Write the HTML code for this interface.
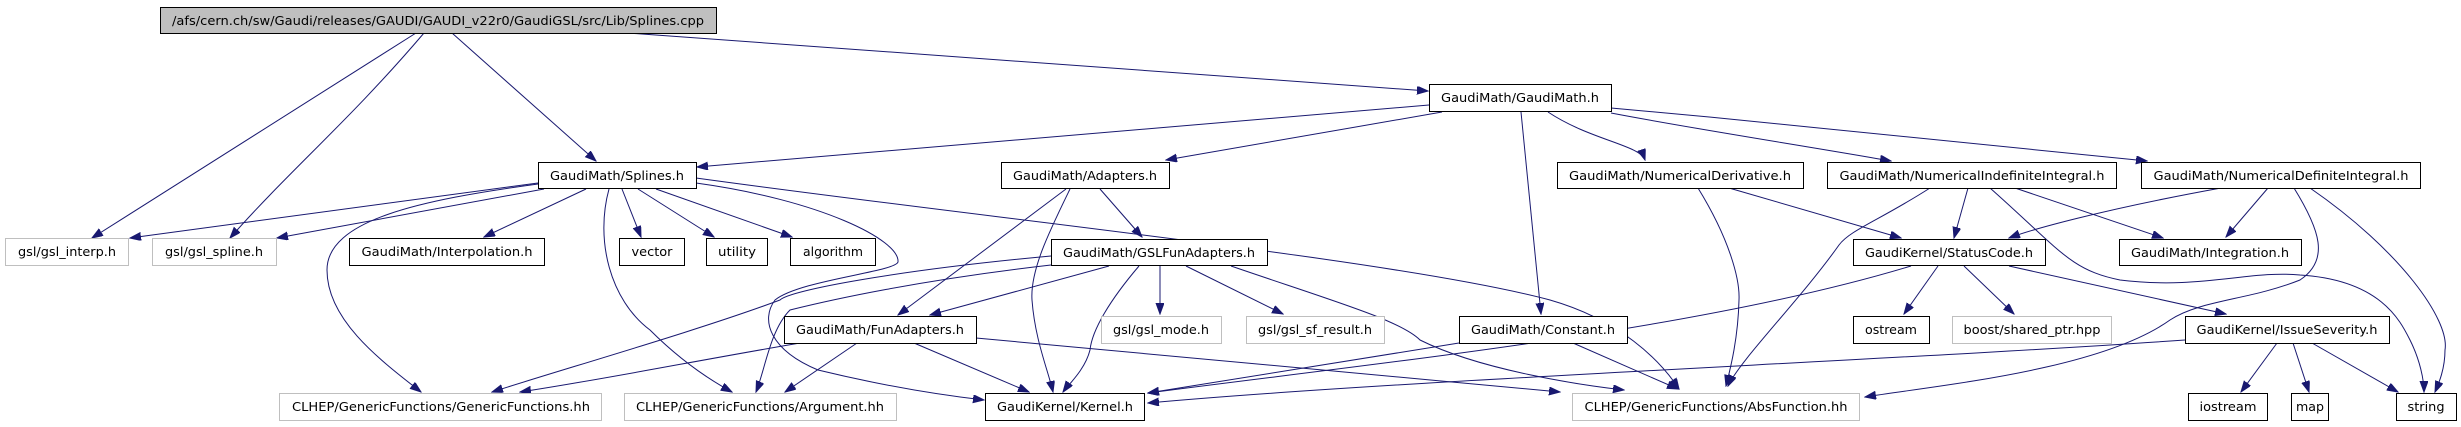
<!DOCTYPE html>
<html><head><meta charset="utf-8"><style>
html,body{margin:0;padding:0;background:#fff;}
svg{display:block;}
text{font-family:"DejaVu Sans","Liberation Sans",sans-serif;font-size:12px;fill:#000;}
</style></head><body>
<svg width="2461" height="427" viewBox="0 0 2461 427" xmlns="http://www.w3.org/2000/svg">
<defs>
<marker id="a" markerUnits="userSpaceOnUse" markerWidth="12" markerHeight="10" refX="11" refY="4" orient="auto">
<path d="M0,0 L11,4 L0,8 Z" fill="#191970" stroke="#191970"/>
</marker>
</defs>
<g fill="none" stroke="#191970" stroke-width="1" marker-end="url(#a)">
<!-- root -->
<path d="M416,33 L92,238"/>
<path d="M424,33 C350,120 290,170 230,238"/>
<path d="M452,33 L596,161"/>
<path d="M628,33 L1428,91"/>
<!-- GaudiMath.h -->
<path d="M1429,105 L697,167"/>
<path d="M1442,112 L1166,160"/>
<path d="M1521,112 L1541,314"/>
<path d="M1548,112 C1590,140 1640,145 1645,160"/>
<path d="M1611,113 C1700,130 1800,145 1891,161"/>
<path d="M1611,108 C1800,125 2000,145 2147,161"/>
<!-- Splines.h -->
<path d="M538,183 L130,238"/>
<path d="M544,189 L277,238"/>
<path d="M586,189 L484,237"/>
<path d="M622,189 L641,237"/>
<path d="M638,189 L714,237"/>
<path d="M656,189 L792,237"/>
<path d="M538,184 C420,200 327,220 327,270 C327,320 380,360 421,392"/>
<path d="M609,189 C595,240 610,300 650,330 C680,360 710,380 732,392"/>
<path d="M696,183 C820,200 900,240 898,262 C895,272 800,280 775,300 C760,320 770,350 818,370 C880,385 940,395 984,400"/>
<path d="M696,178 C1000,220 1400,260 1550,300 C1620,320 1660,360 1679,389"/>
<!-- Adapters.h -->
<path d="M1066,189 L898,315"/>
<path d="M1070,189 C1050,230 1030,270 1032,300 C1035,340 1048,370 1053,392"/>
<path d="M1100,189 L1142,237"/>
<!-- GSLFunAdapters -->
<path d="M1160,266 L1160,314"/>
<path d="M1186,266 L1283,314"/>
<path d="M1109,266 L930,315"/>
<path d="M1139,266 C1110,300 1092,330 1090,350 C1085,370 1068,385 1063,392"/>
<path d="M1231,266 C1330,300 1400,320 1420,340 C1480,370 1580,385 1624,390"/>
<path d="M1051,256 C900,270 790,290 780,300 C700,330 560,370 492,392"/>
<path d="M1051,265 C920,280 830,300 790,310 C770,330 765,370 756,392"/>
<!-- FunAdapters -->
<path d="M800,343 C700,360 600,380 520,392"/>
<path d="M857,343 L785,392"/>
<path d="M914,343 L1029,392"/>
<path d="M976,338 L1560,392"/>
<!-- Constant.h -->
<path d="M1459,343 L1148,393"/>
<path d="M1573,343 L1678,389"/>
<!-- NumericalDerivative -->
<path d="M1729,188 L1901,238"/>
<path d="M1698,188 C1730,240 1740,280 1739,300 C1738,340 1730,370 1726,386"/>
<!-- NumericalIndefiniteIntegral -->
<path d="M1968,188 L1954,238"/>
<path d="M1930,188 C1880,220 1850,230 1839,245 C1800,300 1740,360 1728,386"/>
<path d="M2015,188 L2163,238"/>
<path d="M1990,188 C2060,250 2070,270 2120,280 C2200,290 2250,270 2300,275 C2380,280 2400,320 2410,340 C2420,360 2424,380 2424,392"/>
<!-- NumericalDefiniteIntegral -->
<path d="M2221,188 C2100,210 2030,230 2009,238"/>
<path d="M2268,188 L2226,237"/>
<path d="M2294,188 C2320,230 2330,260 2300,280 C2250,300 2200,300 2170,320 C2100,370 1940,385 1865,397"/>
<path d="M2310,188 C2400,250 2450,320 2445,350 C2445,370 2438,385 2435,392"/>
<!-- StatusCode -->
<path d="M1911,266 C1700,330 1400,360 1148,393"/>
<path d="M1938,266 L1904,314"/>
<path d="M1964,266 L2014,314"/>
<path d="M2009,266 L2226,314"/>
<!-- IssueSeverity -->
<path d="M2185,340 C1900,360 1400,380 1148,403"/>
<path d="M2277,343 L2241,392"/>
<path d="M2293,343 L2309,392"/>
<path d="M2312,343 L2398,392"/>
</g>
<g stroke-width="1">
<rect x="160.5" y="7.5" width="556" height="26" fill="#bfbfbf" stroke="#000"/>
<rect x="538.5" y="162.5" width="158" height="26" fill="#fff" stroke="#000"/>
<rect x="1429.5" y="84.5" width="182" height="27" fill="#fff" stroke="#000"/>
<rect x="5.5" y="238.5" width="123" height="27" fill="#fff" stroke="#bfbfbf"/>
<rect x="152.5" y="238.5" width="124" height="27" fill="#fff" stroke="#bfbfbf"/>
<rect x="349.5" y="238.5" width="195" height="27" fill="#fff" stroke="#000"/>
<rect x="619.5" y="238.5" width="65" height="27" fill="#fff" stroke="#000"/>
<rect x="706.5" y="238.5" width="61" height="27" fill="#fff" stroke="#000"/>
<rect x="790.5" y="238.5" width="85" height="27" fill="#fff" stroke="#000"/>
<rect x="279.5" y="393.5" width="322" height="27" fill="#fff" stroke="#bfbfbf"/>
<rect x="624.5" y="393.5" width="272" height="27" fill="#fff" stroke="#bfbfbf"/>
<rect x="784.5" y="316.5" width="192" height="27" fill="#fff" stroke="#000"/>
<rect x="1001.5" y="162.5" width="168" height="26" fill="#fff" stroke="#000"/>
<rect x="1051.5" y="239.5" width="216" height="26" fill="#fff" stroke="#000"/>
<rect x="1101.5" y="316.5" width="120" height="27" fill="#fff" stroke="#bfbfbf"/>
<rect x="1246.5" y="316.5" width="138" height="27" fill="#fff" stroke="#bfbfbf"/>
<rect x="1459.5" y="316.5" width="168" height="27" fill="#fff" stroke="#000"/>
<rect x="985.5" y="393.5" width="159" height="27" fill="#fff" stroke="#000"/>
<rect x="1572.5" y="393.5" width="287" height="27" fill="#fff" stroke="#bfbfbf"/>
<rect x="1557.5" y="162.5" width="246" height="26" fill="#fff" stroke="#000"/>
<rect x="1827.5" y="162.5" width="289" height="26" fill="#fff" stroke="#000"/>
<rect x="2141.5" y="162.5" width="279" height="26" fill="#fff" stroke="#000"/>
<rect x="1853.5" y="239.5" width="192" height="26" fill="#fff" stroke="#000"/>
<rect x="2119.5" y="239.5" width="182" height="26" fill="#fff" stroke="#000"/>
<rect x="1853.5" y="316.5" width="76" height="27" fill="#fff" stroke="#000"/>
<rect x="1952.5" y="316.5" width="159" height="27" fill="#fff" stroke="#bfbfbf"/>
<rect x="2185.5" y="316.5" width="204" height="27" fill="#fff" stroke="#000"/>
<rect x="2188.5" y="393.5" width="79" height="27" fill="#fff" stroke="#000"/>
<rect x="2291.5" y="393.5" width="37" height="27" fill="#fff" stroke="#000"/>
<rect x="2396.5" y="393.5" width="60" height="27" fill="#fff" stroke="#000"/>
</g>
<g text-anchor="middle" lengthAdjust="spacingAndGlyphs">
<text x="438" y="25" textLength="532" lengthAdjust="spacingAndGlyphs">/afs/cern.ch/sw/Gaudi/releases/GAUDI/GAUDI_v22r0/GaudiGSL/src/Lib/Splines.cpp</text>
<text x="617" y="180" textLength="134" lengthAdjust="spacingAndGlyphs">GaudiMath/Splines.h</text>
<text x="1520" y="102" textLength="158" lengthAdjust="spacingAndGlyphs">GaudiMath/GaudiMath.h</text>
<text x="67" y="256" textLength="98" lengthAdjust="spacingAndGlyphs">gsl/gsl_interp.h</text>
<text x="214" y="256" textLength="98" lengthAdjust="spacingAndGlyphs">gsl/gsl_spline.h</text>
<text x="447" y="256" textLength="171" lengthAdjust="spacingAndGlyphs">GaudiMath/Interpolation.h</text>
<text x="652" y="256" textLength="41" lengthAdjust="spacingAndGlyphs">vector</text>
<text x="737" y="256" textLength="38" lengthAdjust="spacingAndGlyphs">utility</text>
<text x="833" y="256" textLength="60" lengthAdjust="spacingAndGlyphs">algorithm</text>
<text x="441" y="411" textLength="298" lengthAdjust="spacingAndGlyphs">CLHEP/GenericFunctions/GenericFunctions.hh</text>
<text x="760" y="411" textLength="248" lengthAdjust="spacingAndGlyphs">CLHEP/GenericFunctions/Argument.hh</text>
<text x="880" y="334" textLength="168" lengthAdjust="spacingAndGlyphs">GaudiMath/FunAdapters.h</text>
<text x="1085" y="180" textLength="144" lengthAdjust="spacingAndGlyphs">GaudiMath/Adapters.h</text>
<text x="1159" y="257" textLength="192" lengthAdjust="spacingAndGlyphs">GaudiMath/GSLFunAdapters.h</text>
<text x="1161" y="334" textLength="96" lengthAdjust="spacingAndGlyphs">gsl/gsl_mode.h</text>
<text x="1315" y="334" textLength="114" lengthAdjust="spacingAndGlyphs">gsl/gsl_sf_result.h</text>
<text x="1543" y="334" textLength="144" lengthAdjust="spacingAndGlyphs">GaudiMath/Constant.h</text>
<text x="1065" y="411" textLength="136" lengthAdjust="spacingAndGlyphs">GaudiKernel/Kernel.h</text>
<text x="1716" y="411" textLength="263" lengthAdjust="spacingAndGlyphs">CLHEP/GenericFunctions/AbsFunction.hh</text>
<text x="1680" y="180" textLength="222" lengthAdjust="spacingAndGlyphs">GaudiMath/NumericalDerivative.h</text>
<text x="1972" y="180" textLength="265" lengthAdjust="spacingAndGlyphs">GaudiMath/NumericalIndefiniteIntegral.h</text>
<text x="2281" y="180" textLength="255" lengthAdjust="spacingAndGlyphs">GaudiMath/NumericalDefiniteIntegral.h</text>
<text x="1949" y="257" textLength="168" lengthAdjust="spacingAndGlyphs">GaudiKernel/StatusCode.h</text>
<text x="2210" y="257" textLength="158" lengthAdjust="spacingAndGlyphs">GaudiMath/Integration.h</text>
<text x="1891" y="334" textLength="52" lengthAdjust="spacingAndGlyphs">ostream</text>
<text x="2032" y="334" textLength="137" lengthAdjust="spacingAndGlyphs">boost/shared_ptr.hpp</text>
<text x="2287" y="334" textLength="181" lengthAdjust="spacingAndGlyphs">GaudiKernel/IssueSeverity.h</text>
<text x="2228" y="411" textLength="57" lengthAdjust="spacingAndGlyphs">iostream</text>
<text x="2310" y="411" textLength="28" lengthAdjust="spacingAndGlyphs">map</text>
<text x="2426" y="411" textLength="37" lengthAdjust="spacingAndGlyphs">string</text>
</g>
</svg>
</body></html>
